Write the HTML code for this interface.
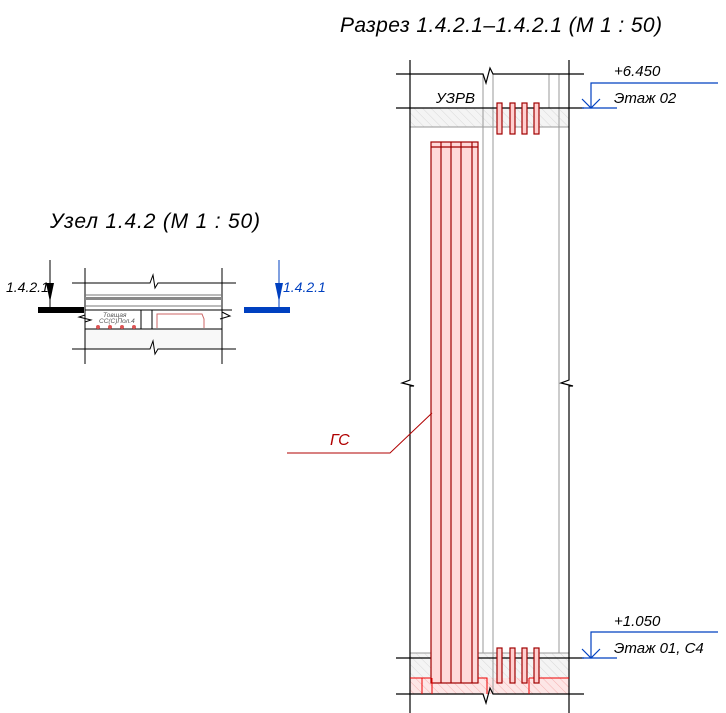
<!DOCTYPE html>
<html><head><meta charset="utf-8"><style>
html,body{margin:0;padding:0;background:#fff;width:726px;height:713px;overflow:hidden}
text{font-family:"Liberation Sans","DejaVu Sans",sans-serif;font-style:italic}
</style></head><body>
<svg width="726" height="713" viewBox="0 0 726 713" xmlns="http://www.w3.org/2000/svg">
<defs>
<pattern id="h" width="6" height="6" patternUnits="userSpaceOnUse" patternTransform="rotate(-45)">
<rect width="6" height="6" fill="#f4f4f4"/><line x1="0" y1="0" x2="0" y2="6" stroke="#d8d8d8" stroke-width="1"/></pattern>
<pattern id="hr" width="6" height="6" patternUnits="userSpaceOnUse" patternTransform="rotate(-45)">
<rect width="6" height="6" fill="#fde6e6"/><line x1="0" y1="0" x2="0" y2="6" stroke="#f4b0b0" stroke-width="1"/></pattern>
</defs>
<text x="340" y="32" font-size="21" textLength="322" fill="#000">Разрез 1.4.2.1–1.4.2.1 (М 1 : 50)</text>
<text x="50" y="228" font-size="21" textLength="210" fill="#000">Узел 1.4.2 (М 1 : 50)</text>

<rect x="410" y="108" width="159" height="19" fill="url(#h)"/>
<rect x="410" y="653" width="159" height="25" fill="url(#h)"/>
<rect x="410" y="678" width="159" height="16" fill="url(#hr)"/>
<g stroke="#999" stroke-width="1" fill="none">
<line x1="483" y1="74" x2="483" y2="653"/><line x1="493" y1="74" x2="493" y2="694"/>
<line x1="549" y1="74" x2="549" y2="108"/><line x1="559" y1="74" x2="559" y2="653"/>
<line x1="410" y1="127" x2="569" y2="127"/><line x1="410" y1="653" x2="569" y2="653"/>
</g>
<g stroke="#000" stroke-width="1.2" fill="none">
<path d="M410,60 V380 l-8,3 12,3 -4,0 V713"/>
<path d="M569,60 V380 l-8,3 12,3 -4,0 V713"/>
<path d="M396,74 H483 l3,9 4,-15 3,6 H584"/>
<line x1="396" y1="108" x2="584" y2="108"/>
<line x1="396" y1="658" x2="584" y2="658"/>
<path d="M396,694 H483 l3,9 4,-15 3,6 H584"/>
</g>
<rect x="431" y="142" width="47" height="541" fill="#ffd9d9" stroke="#a00000" stroke-width="1.2"/>
<g stroke="#a00000" stroke-width="1.2">
<line x1="431" y1="147" x2="478" y2="147"/>
<line x1="441" y1="142" x2="441" y2="683"/><line x1="451" y1="142" x2="451" y2="683"/>
<line x1="461" y1="142" x2="461" y2="683"/><line x1="472" y1="142" x2="472" y2="683"/>
</g>
<g stroke="#e00" stroke-width="1" fill="none">
<path d="M410,678 H431 M478,678 H487 V694 M422,678 V694 M432,678 V694 M529,678 H569 M529,678 V694"/>
</g>
<g fill="#ffd0d0" stroke="#a00000" stroke-width="1.2">
<rect x="497" y="103" width="5" height="31"/><rect x="510" y="103" width="5" height="31"/>
<rect x="522" y="103" width="5" height="31"/><rect x="534" y="103" width="5" height="31"/>
<rect x="497" y="648" width="5" height="35"/><rect x="510" y="648" width="5" height="35"/>
<rect x="522" y="648" width="5" height="35"/><rect x="534" y="648" width="5" height="35"/>
</g>
<text x="436" y="103" font-size="15" fill="#000">УЗРВ</text>
<g stroke="#0040c0" stroke-width="1.2" fill="none">
<path d="M591,108 V83 H718"/><path d="M582,108 H617"/><path d="M582,99 L591,108 L600,99"/>
<path d="M591,658 V632 H718"/><path d="M582,658 H617"/><path d="M582,649 L591,658 L600,649"/>
</g>
<text x="614" y="76" font-size="15" fill="#000">+6.450</text>
<text x="614" y="103" font-size="15" fill="#000">Этаж 02</text>
<text x="614" y="626" font-size="15" fill="#000">+1.050</text>
<text x="614" y="653" font-size="15" fill="#000">Этаж 01, С4</text>
<path d="M287,453 H390 L432,413" stroke="#b00000" stroke-width="1" fill="none"/>
<text x="330" y="445" font-size="16" fill="#b00000">ГС</text>

<rect x="85" y="329" width="137" height="20" fill="#f8f8f8"/>
<g stroke="#000" stroke-width="1" fill="none">
<line x1="85" y1="268" x2="85" y2="364"/><line x1="222" y1="268" x2="222" y2="364"/>
<path d="M72,283 H150 l3,-8 2,13 3,-5 H236"/>
<path d="M72,349 H150 l3,-8 2,13 3,-5 H236"/>
<line x1="85" y1="310" x2="232" y2="310"/>
<line x1="85" y1="329" x2="222" y2="329"/>
<line x1="141" y1="310" x2="141" y2="329"/><line x1="152" y1="310" x2="152" y2="329"/>
<path d="M85,315 l-6,2 12,3 -6,2"/><path d="M222,312 l8,4 -10,3"/>
</g>
<g stroke="#777" stroke-width="1"><line x1="85" y1="295" x2="222" y2="295"/><line x1="85" y1="298" x2="222" y2="298"/><line x1="85" y1="306" x2="222" y2="306"/></g>
<rect x="85" y="297" width="137" height="3" fill="#888"/>
<path d="M157,328 V314 H202 l2,5 V328" stroke="#c66" fill="none" stroke-width="1"/>
<text x="103" y="317" font-size="6.5" fill="#555">Товщая</text>
<text x="99" y="320" font-size="6.5" fill="#555" dy="3">СС(С)Пол.4</text>
<g fill="#d55"><circle cx="98" cy="327" r="2"/><circle cx="110" cy="327" r="2"/><circle cx="122" cy="327" r="2"/><circle cx="134" cy="327" r="2"/></g>
<rect x="38" y="307" width="46" height="6" fill="#000"/>
<rect x="244" y="307" width="46" height="6" fill="#0040c0"/>
<line x1="50" y1="260" x2="50" y2="307" stroke="#000"/>
<path d="M46,283 L54,283 L50,302 Z" fill="#000"/>
<line x1="279" y1="260" x2="279" y2="307" stroke="#0040c0"/>
<path d="M275,283 L283,283 L279,302 Z" fill="#0040c0"/>
<text x="6" y="292" font-size="14" fill="#000">1.4.2.1</text>
<text x="283" y="292" font-size="14" fill="#0040c0">1.4.2.1</text>
</svg>
</body></html>
